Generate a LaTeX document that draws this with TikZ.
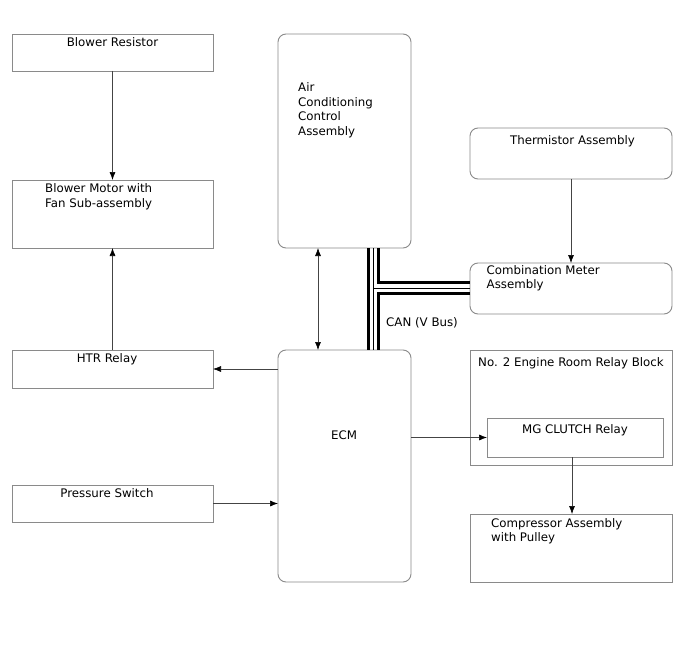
\documentclass[tikz,border=0pt]{standalone}
\usepackage{fontspec}
\setmainfont{DejaVu Sans}
\usetikzlibrary{arrows.meta}
\definecolor{boxgray}{HTML}{8A8A8A}
\definecolor{linegray}{HTML}{444444}
\begin{document}
\begin{tikzpicture}[x=1pt,y=-1pt,
  box/.style={draw=boxgray, line width=0.9pt, anchor=north west, inner sep=0pt, outer sep=0pt},
  rbox/.style={box, rounded corners=8pt},
  txt/.style={anchor=base west, inner sep=0pt, font=\fontsize{11.8}{14}\selectfont},
  ctxt/.style={txt, anchor=base},
  conn/.style={line width=0.6pt, draw=linegray, -{Latex[length=8pt,width=6pt,color=black]}},
  dconn/.style={conn, {Latex[length=8pt,width=6pt,color=black]}-{Latex[length=8pt,width=6pt,color=black]}},
  canthick/.style={line width=3.4pt, black, line cap=butt, line join=miter},
  canthin/.style={line width=1pt, black, line cap=butt},
]
\useasboundingbox (0,0) rectangle (688,658);
\fill[white] (0,0) rectangle (688,658);

% boxes
\node[box, minimum width=201pt, minimum height=37pt] (br) at (12,34) {};
\node[box, minimum width=201pt, minimum height=68pt] (bm) at (12,180) {};
\node[box, minimum width=201pt, minimum height=38pt] (htr) at (12,350) {};
\node[box, minimum width=201pt, minimum height=37pt] (ps) at (12,485) {};
\node[rbox, minimum width=133pt, minimum height=214pt] (ac) at (278,34) {};
\node[rbox, minimum width=133pt, minimum height=232pt] (ecm) at (278,350) {};
\node[rbox, minimum width=202pt, minimum height=51pt] (th) at (470,128) {};
\node[rbox, minimum width=202pt, minimum height=51pt] (cm) at (470,263) {};
\node[box, minimum width=202pt, minimum height=115pt] (rb) at (470,350) {};
\node[box, minimum width=176pt, minimum height=39pt] (mg) at (487,418) {};
\node[box, minimum width=202pt, minimum height=68pt] (cp) at (470,514) {};

% texts
\node[ctxt] (tbr) at (112.5,46.5) {Blower Resistor};
\node[txt] (tbm1) at (45,192.5) {Blower Motor with};
\node[txt] (tbm2) at (45,207) {Fan Sub-assembly};
\node[ctxt] (thtr) at (107,362.5) {HTR Relay};
\node[ctxt] (tps) at (107,497.5) {Pressure Switch};
\node[txt] (tac1) at (298,92) {Air};
\node[txt] (tac2) at (298,106.5) {Conditioning};
\node[txt] (tac3) at (298,121) {Control};
\node[txt] (tac4) at (298,135.5) {Assembly};
\node[ctxt] (tecm) at (344,439.5) {ECM};
\node[ctxt] (tth) at (572.5,144.5) {Thermistor Assembly};
\node[txt] (tcm1) at (486.5,274) {Combination Meter};
\node[txt] (tcm2) at (486.5,288.5) {Assembly};
\node[txt] (trb) at (478,366) {No. 2 Engine Room Relay Block};
\node[ctxt] (tmg) at (575,433.5) {MG CLUTCH Relay};
\node[txt] (tcp1) at (491,527) {Compressor Assembly};
\node[txt] (tcp2) at (491,541.5) {with Pulley};
\node[txt] (tcan) at (386,326.5) {CAN (V Bus)};

% connectors
\draw[conn] (br.south) -- (bm.north);
\draw[conn] (htr.north) -- (bm.south);
\draw[conn] (ecm.west |- htr.east) -- (htr.east);
\draw[conn] (ps.east) -- (ps.east -| ecm.west);
\draw[conn] (mg.west -| ecm.east) -- (mg.west);
\draw[conn] (th.south) -- (cm.north);
\coordinate (mgo) at ([xshift=85pt]mg.south west);
\draw[conn] (mgo) -- (mgo |- cp.north);
\coordinate (dca) at ([xshift=40pt]ac.south west);
\draw[dconn] (dca) -- (dca |- ecm.north);

% CAN bus
\coordinate (canl) at ([xshift=90.5pt]ac.south west);
\coordinate (canm) at ([xshift=95pt]ac.south west);
\coordinate (canr) at ([xshift=100.7pt]ac.south west);
\draw[canthick] (canl) -- (canl |- ecm.north);
\draw[canthin] (canm) -- (canm |- ecm.north);
\draw[canthin] (canm |- cm.west) -- (cm.west);
\draw[canthick] (canr) |- ([yshift=5.8pt]cm.west);
\draw[canthick] ([yshift=-5.2pt]cm.west) -| (canr |- ecm.north);
\end{tikzpicture}
\end{document}
